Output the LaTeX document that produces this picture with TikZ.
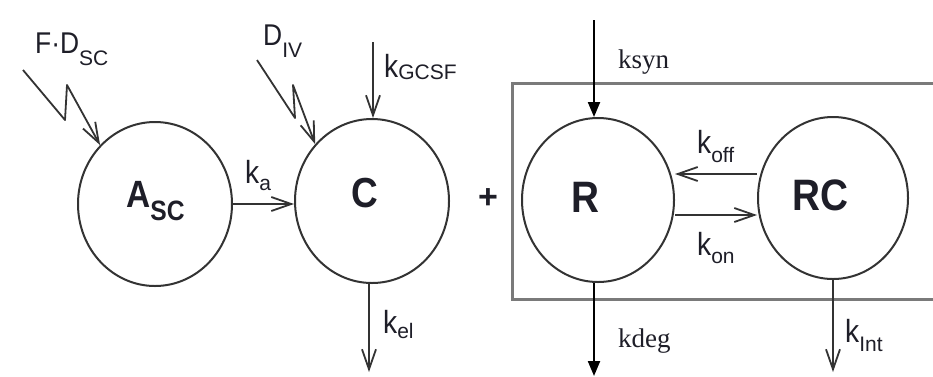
\documentclass[tikz,border=0pt]{standalone}
\usepackage{fontspec}
\setmainfont{Liberation Sans}
\newfontfamily\nsans[FakeStretch=0.88]{Liberation Sans}
\newfontfamily\tms{Liberation Serif}
\usetikzlibrary{arrows.meta,shapes.geometric}
\definecolor{ink}{HTML}{1E1E28}
\definecolor{linec}{HTML}{333333}
\definecolor{boxc}{HTML}{7A7A7A}
\newcommand{\sz}[1]{\fontsize{#1}{#1}\selectfont}
\newcommand{\klab}[3]{{\nsans\sz{32}#2}\raisebox{-#1}{\rmfamily\sz{21}#3}}
\begin{document}
\begin{tikzpicture}[x=1pt,y=-1pt,
  comp/.style={ellipse,draw=linec,line width=2pt,inner sep=0pt},
  lab/.style={anchor=base west,inner sep=0pt,text=ink},
  big/.style={anchor=base west,inner sep=0pt,text=ink,font=\nsans\bfseries},
  flow/.style={draw=linec,line width=1.8pt,line join=round,-{Straight Barb[length=20pt,width=14pt]}},
  flux/.style={draw=black,line width=2.2pt,-{Triangle[length=15pt,width=12pt]}},
  boxline/.style={draw=boxc,line width=3pt}]
\fill[white] (0,0) rectangle (933,376);
\useasboundingbox (0,0) rectangle (933,376);

% receptor box
\coordinate (b1) at (933,83);
\coordinate (b2) at (512,83);
\coordinate (b3) at (512,299);
\coordinate (b4) at (933,299);
\draw[boxline] (b1) -- (b2) -- (b3) -- (b4);

% compartments
\node[comp,minimum width=154pt,minimum height=164pt] (A) at (155,204) {};
\node[comp,minimum width=154pt,minimum height=164pt] (C) at (372,201) {};
\node[comp,minimum width=152pt,minimum height=164pt] (R) at (598,200) {};
\node[comp,minimum width=150pt,minimum height=162pt] (RC) at (833,198) {};

% compartment labels
\node[big] (Alab) at (126,207) {{\sz{38}A}\raisebox{-13pt}{\sz{28}SC}};
\node[big] (Clab) at (351,207) {\sz{42}C};
\node[big] (Rlab) at (571,212) {\sz{44}R};
\node[big] (RClab) at (792,210) {\sz{44}RC};
\node[inner sep=0pt,text=ink,font=\bfseries\sz{34}] (plus) at (488,199) {+};

% dose inputs
\coordinate (fd0) at (23,70);
\coordinate (fd1) at (65,120);
\coordinate (fd2) at (67,85);
\draw[flow] (fd0) -- (fd1) -- (fd2) -- (A.133);
\node[lab] (FD) at (35,53) {{\nsans\sz{30}F·D}\raisebox{-12pt}{\sz{21}SC}};

\coordinate (dv0) at (257,60);
\coordinate (dv1) at (295,118);
\coordinate (dv2) at (293,85);
\draw[flow] (dv0) -- (dv1) -- (dv2) -- (C.135);
\node[lab] (DIV) at (263,45) {{\nsans\sz{30}D}\raisebox{-12pt}{\sz{21}IV}};

% kGCSF
\coordinate (gc0) at (373,42);
\draw[flow] (gc0) -- (gc0 |- C.north);
\node[lab] (kgcsf) at (384,77) {\klab{2pt}{k}{GCSF}};

% ka
\draw[flow] (A.east) -- (A.east -| C.west);
\node[lab] (ka) at (245,183) {\klab{7pt}{k}{a}};

% kel
\coordinate (el1) at (369,372);
\draw[flow] (el1 |- C.south) -- (el1);
\node[lab] (kel) at (383,333) {\klab{5pt}{k}{el}};

% koff / kon
\coordinate (offy) at (0,174);
\coordinate (ony) at (0,215);
\draw[flow] (RC.west |- offy) -- (R.east |- offy);
\draw[flow] (R.east |- ony) -- (RC.west |- ony);
\node[lab] (koff) at (697,153) {\klab{9pt}{k}{off}};
\node[lab] (kon) at (697,255) {\klab{8pt}{k}{on}};

% kInt
\coordinate (in1) at (833,372);
\draw[flow] (in1 |- RC.south) -- (in1);
\node[lab] (kint) at (845,342) {\klab{9pt}{k}{Int}};

% ksyn / kdeg
\coordinate (sy0) at (594,20);
\draw[flux] (sy0) -- (sy0 |- R.north);
\node[lab,font=\tms\sz{27}] (ksyn) at (618,68) {ksyn};
\coordinate (dg1) at (594,376);
\draw[flux] (dg1 |- R.south) -- (dg1);
\node[lab,font=\tms\sz{27}] (kdeg) at (618,347) {kdeg};
\end{tikzpicture}
\end{document}
